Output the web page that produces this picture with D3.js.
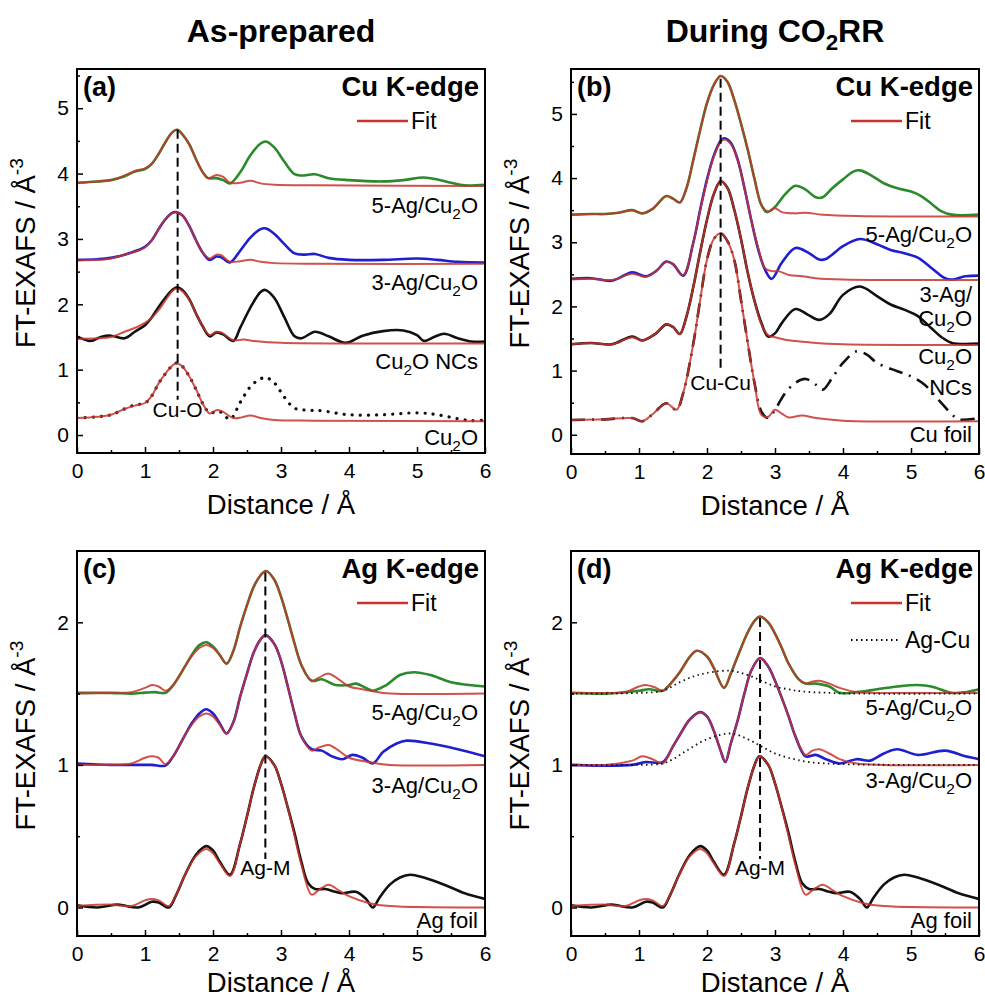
<!DOCTYPE html>
<html>
<head>
<meta charset="utf-8">
<script src="https://cdn.jsdelivr.net/npm/d3@7"></script>
<style>
  body { margin: 0; background: #fff; }
  svg { font-family: Arial, "Liberation Sans", sans-serif; }
</style>
</head>
<body>
<svg id="chart" width="985" height="1003"></svg>
<script>
"use strict";

/******************************************************* Data *******************************************************/

// Shared x ticks (distance, Å)
const R_TICKS = [0, 1, 2, 3, 4, 5, 6];

// (a) As-prepared, Cu K-edge
const a5Ag = [[0,3.86],[0.3,3.88],[0.5,3.9],[0.7,3.96],[0.85,4.03],[1.0,4.07],[1.1,4.15],[1.2,4.3],[1.3,4.48],[1.4,4.63],[1.47,4.67],[1.55,4.6],[1.65,4.45],[1.75,4.22],[1.85,4.02],[1.93,3.93],[2.05,3.93],[2.15,3.9],[2.25,3.85],[2.4,4.02],[2.55,4.28],[2.7,4.46],[2.78,4.49],[2.9,4.4],[3.05,4.18],[3.2,3.99],[3.3,3.97],[3.5,3.99],[3.7,3.93],[4.0,3.9],[4.5,3.88],[4.8,3.9],[5.1,3.94],[5.3,3.91],[5.5,3.86],[5.7,3.82],[6.0,3.83]];
const a5AgFit = [[0,3.86],[0.3,3.88],[0.5,3.9],[0.7,3.97],[0.85,4.04],[1.0,4.08],[1.1,4.15],[1.2,4.3],[1.3,4.48],[1.4,4.63],[1.47,4.67],[1.55,4.6],[1.65,4.45],[1.75,4.22],[1.85,4.02],[1.93,3.93],[2.05,3.98],[2.15,3.95],[2.25,3.86],[2.4,3.86],[2.55,3.89],[2.7,3.85],[2.9,3.83],[3.5,3.82],[6,3.81]];
const a3Ag = [[0,2.68],[0.3,2.69],[0.5,2.71],[0.7,2.76],[0.9,2.83],[1.0,2.88],[1.1,2.98],[1.2,3.15],[1.3,3.3],[1.4,3.4],[1.46,3.41],[1.55,3.36],[1.65,3.2],[1.75,2.98],[1.85,2.79],[1.95,2.68],[2.05,2.73],[2.12,2.72],[2.25,2.64],[2.4,2.82],[2.55,3.02],[2.7,3.15],[2.78,3.16],[2.9,3.08],[3.05,2.92],[3.2,2.78],[3.35,2.76],[3.5,2.77],[3.7,2.71],[4.0,2.68],[4.5,2.68],[5.0,2.7],[5.3,2.68],[5.6,2.65],[6,2.64]];
const a3AgFit = [[0,2.67],[0.3,2.68],[0.5,2.7],[0.7,2.76],[0.9,2.82],[1.0,2.87],[1.1,2.98],[1.2,3.15],[1.3,3.3],[1.4,3.39],[1.46,3.41],[1.55,3.36],[1.65,3.2],[1.75,2.98],[1.85,2.79],[1.95,2.7],[2.05,2.76],[2.12,2.75],[2.25,2.65],[2.4,2.66],[2.55,2.68],[2.7,2.65],[2.9,2.63],[3.5,2.62],[6,2.62]];
const aNCs = [[0,1.51],[0.2,1.44],[0.35,1.5],[0.5,1.52],[0.7,1.48],[0.85,1.58],[1.0,1.68],[1.1,1.8],[1.2,1.96],[1.3,2.1],[1.4,2.22],[1.47,2.26],[1.55,2.22],[1.65,2.08],[1.75,1.86],[1.85,1.66],[1.95,1.51],[2.05,1.57],[2.15,1.54],[2.3,1.44],[2.4,1.64],[2.55,1.95],[2.7,2.19],[2.77,2.22],[2.9,2.1],[3.05,1.8],[3.2,1.51],[3.3,1.48],[3.5,1.58],[3.7,1.51],[3.95,1.41],[4.2,1.52],[4.5,1.59],[4.8,1.6],[5.0,1.53],[5.1,1.44],[5.25,1.5],[5.4,1.55],[5.6,1.48],[5.8,1.43],[6,1.43]];
const aNCsFit = [[0,1.47],[0.3,1.48],[0.5,1.5],[0.7,1.58],[0.9,1.66],[1.05,1.75],[1.2,1.91],[1.3,2.06],[1.4,2.2],[1.47,2.24],[1.55,2.2],[1.65,2.07],[1.75,1.86],[1.85,1.66],[1.95,1.53],[2.05,1.58],[2.12,1.57],[2.3,1.45],[2.45,1.46],[2.6,1.44],[3.0,1.41],[4,1.4],[6,1.4]];
const aCu2O = [[0,0.26],[0.3,0.28],[0.5,0.31],[0.7,0.4],[0.85,0.46],[1.0,0.49],[1.1,0.6],[1.2,0.79],[1.3,0.94],[1.4,1.06],[1.46,1.1],[1.55,1.05],[1.65,0.9],[1.75,0.7],[1.85,0.48],[1.95,0.34],[2.05,0.36],[2.12,0.35],[2.25,0.24],[2.4,0.5],[2.55,0.74],[2.7,0.86],[2.78,0.88],[2.9,0.8],[3.05,0.58],[3.2,0.41],[3.4,0.38],[3.6,0.37],[4.0,0.31],[4.5,0.31],[5.0,0.34],[5.3,0.31],[5.6,0.25],[5.8,0.22],[6,0.23]];
const aCu2OFit = [[0,0.26],[0.3,0.28],[0.5,0.31],[0.7,0.4],[0.85,0.45],[1.0,0.49],[1.1,0.6],[1.2,0.79],[1.3,0.94],[1.4,1.06],[1.46,1.1],[1.55,1.05],[1.65,0.9],[1.75,0.7],[1.85,0.48],[1.95,0.33],[2.05,0.38],[2.12,0.37],[2.3,0.26],[2.42,0.27],[2.55,0.3],[2.7,0.26],[2.9,0.23],[3.5,0.22],[6,0.21]];

// (b) During CO2RR, Cu K-edge
const b5Ag = [[0,3.43],[0.3,3.44],[0.5,3.44],[0.7,3.46],[0.9,3.5],[1.05,3.45],[1.2,3.52],[1.4,3.72],[1.5,3.68],[1.6,3.62],[1.7,3.85],[1.8,4.29],[1.9,4.75],[2.0,5.17],[2.1,5.45],[2.2,5.59],[2.3,5.5],[2.4,5.22],[2.5,4.85],[2.6,4.44],[2.7,3.98],[2.8,3.58],[2.88,3.47],[3.0,3.55],[3.15,3.75],[3.3,3.88],[3.45,3.82],[3.6,3.7],[3.7,3.7],[3.85,3.85],[4.0,3.98],[4.15,4.1],[4.25,4.12],[4.4,4.05],[4.6,3.92],[4.8,3.84],[5.0,3.79],[5.15,3.72],[5.3,3.6],[5.45,3.48],[5.6,3.43],[6,3.43]];
const b5AgFit = [[0,3.43],[0.3,3.44],[0.5,3.44],[0.7,3.46],[0.9,3.5],[1.05,3.45],[1.2,3.52],[1.4,3.72],[1.5,3.68],[1.6,3.62],[1.7,3.85],[1.8,4.29],[1.9,4.75],[2.0,5.17],[2.1,5.45],[2.2,5.59],[2.3,5.5],[2.4,5.22],[2.5,4.85],[2.6,4.44],[2.7,3.98],[2.8,3.58],[2.9,3.48],[3.0,3.53],[3.1,3.47],[3.3,3.45],[3.45,3.46],[3.7,3.43],[4.2,3.41],[6,3.4]];
const b3Ag = [[0,2.43],[0.3,2.44],[0.6,2.4],[0.9,2.53],[1.1,2.47],[1.25,2.55],[1.4,2.7],[1.5,2.66],[1.65,2.48],[1.8,3.0],[1.9,3.51],[2.0,3.98],[2.1,4.35],[2.2,4.58],[2.25,4.62],[2.35,4.55],[2.45,4.29],[2.55,3.85],[2.65,3.35],[2.75,2.9],[2.85,2.58],[2.95,2.43],[3.1,2.68],[3.3,2.91],[3.5,2.83],[3.65,2.73],[3.75,2.74],[4.0,2.94],[4.25,3.05],[4.5,2.97],[4.7,2.88],[4.9,2.83],[5.1,2.76],[5.3,2.6],[5.5,2.44],[5.6,2.42],[5.8,2.47],[6,2.48]];
const b3AgFit = [[0,2.42],[0.3,2.43],[0.6,2.41],[0.9,2.51],[1.1,2.46],[1.25,2.55],[1.4,2.69],[1.5,2.66],[1.65,2.49],[1.8,3.0],[1.9,3.5],[2.0,3.96],[2.1,4.33],[2.2,4.56],[2.25,4.6],[2.35,4.53],[2.45,4.28],[2.55,3.85],[2.65,3.35],[2.75,2.92],[2.85,2.6],[2.95,2.55],[3.05,2.55],[3.2,2.49],[3.4,2.47],[3.6,2.44],[4.0,2.42],[6,2.41]];
const bNCs = [[0,1.41],[0.3,1.43],[0.6,1.41],[0.9,1.53],[1.05,1.47],[1.25,1.58],[1.4,1.72],[1.5,1.68],[1.6,1.57],[1.7,1.85],[1.8,2.31],[1.9,2.85],[2.0,3.35],[2.1,3.75],[2.2,3.95],[2.3,3.85],[2.4,3.51],[2.5,3.05],[2.6,2.52],[2.7,2.08],[2.8,1.74],[2.9,1.53],[3.0,1.58],[3.1,1.74],[3.3,1.96],[3.5,1.86],[3.65,1.79],[3.8,1.88],[4.0,2.18],[4.25,2.31],[4.5,2.16],[4.7,2.03],[4.9,1.95],[5.1,1.85],[5.3,1.66],[5.45,1.52],[5.6,1.43],[6,1.42]];
const bNCsFit = [[0,1.41],[0.3,1.43],[0.6,1.41],[0.9,1.52],[1.05,1.47],[1.25,1.58],[1.4,1.72],[1.5,1.68],[1.6,1.57],[1.7,1.85],[1.8,2.31],[1.9,2.85],[2.0,3.35],[2.1,3.75],[2.2,3.95],[2.3,3.85],[2.4,3.51],[2.5,3.05],[2.6,2.52],[2.7,2.08],[2.8,1.72],[2.9,1.55],[3.0,1.52],[3.15,1.48],[3.3,1.46],[3.5,1.44],[4,1.41],[6,1.4]];
const bFoil = [[0,0.23],[0.5,0.24],[0.9,0.26],[1.05,0.21],[1.2,0.32],[1.4,0.49],[1.55,0.39],[1.65,0.65],[1.8,1.43],[1.9,2.1],[2.0,2.73],[2.1,3.05],[2.2,3.14],[2.3,3.02],[2.4,2.73],[2.5,2.1],[2.6,1.43],[2.7,0.8],[2.8,0.36],[2.9,0.26],[3.0,0.39],[3.15,0.65],[3.3,0.81],[3.45,0.87],[3.6,0.78],[3.7,0.7],[3.85,0.9],[4.0,1.12],[4.2,1.3],[4.35,1.25],[4.5,1.12],[4.8,0.99],[5.0,0.91],[5.2,0.78],[5.4,0.55],[5.6,0.32],[5.7,0.24],[6,0.26]];
const bFoilFit = [[0,0.23],[0.5,0.24],[0.9,0.26],[1.05,0.21],[1.2,0.32],[1.4,0.49],[1.55,0.39],[1.65,0.65],[1.8,1.43],[1.9,2.1],[2.0,2.73],[2.1,3.05],[2.2,3.14],[2.3,3.02],[2.4,2.73],[2.5,2.1],[2.6,1.43],[2.7,0.8],[2.8,0.31],[2.9,0.28],[3.0,0.39],[3.1,0.33],[3.2,0.27],[3.4,0.3],[3.6,0.26],[4,0.22],[6,0.21]];

// (c) As-prepared, Ag K-edge
const c5Ag = [[0,1.505],[0.5,1.505],[0.8,1.5],[1.0,1.507],[1.15,1.51],[1.3,1.505],[1.4,1.55],[1.5,1.62],[1.6,1.7],[1.7,1.78],[1.8,1.84],[1.9,1.86],[2.0,1.83],[2.1,1.77],[2.2,1.71],[2.3,1.8],[2.4,1.97],[2.5,2.12],[2.6,2.25],[2.7,2.33],[2.78,2.36],[2.9,2.3],[3.0,2.18],[3.1,2.02],[3.2,1.85],[3.3,1.7],[3.45,1.59],[3.6,1.6],[3.8,1.56],[4.0,1.56],[4.1,1.57],[4.25,1.54],[4.35,1.52],[4.55,1.56],[4.75,1.63],[4.95,1.65],[5.2,1.63],[5.5,1.58],[6,1.55]];
const c5AgFit = [[0,1.5],[0.5,1.505],[0.8,1.51],[1.0,1.54],[1.1,1.56],[1.2,1.55],[1.3,1.52],[1.4,1.55],[1.5,1.62],[1.6,1.7],[1.7,1.77],[1.8,1.82],[1.9,1.84],[2.0,1.82],[2.1,1.77],[2.2,1.71],[2.3,1.8],[2.4,1.97],[2.5,2.12],[2.6,2.25],[2.7,2.33],[2.78,2.36],[2.9,2.3],[3.0,2.18],[3.1,2.02],[3.2,1.85],[3.3,1.7],[3.45,1.59],[3.55,1.61],[3.7,1.64],[3.85,1.6],[4.0,1.55],[4.2,1.53],[4.5,1.505],[6,1.5]];
const c3Ag = [[0,1.01],[0.5,1.0],[0.9,1.0],[1.1,1.0],[1.3,0.995],[1.4,1.05],[1.5,1.13],[1.6,1.22],[1.7,1.3],[1.8,1.36],[1.9,1.39],[2.0,1.36],[2.1,1.29],[2.2,1.22],[2.3,1.3],[2.4,1.48],[2.5,1.64],[2.6,1.79],[2.7,1.88],[2.77,1.91],[2.9,1.85],[3.0,1.73],[3.1,1.55],[3.2,1.36],[3.3,1.2],[3.45,1.11],[3.6,1.1],[3.75,1.06],[3.9,1.04],[4.05,1.07],[4.2,1.05],[4.35,1.01],[4.5,1.09],[4.7,1.15],[4.85,1.17],[5.2,1.15],[5.6,1.11],[6,1.06]];
const c3AgFit = [[0,1.0],[0.5,1.0],[0.8,1.01],[1.0,1.05],[1.1,1.06],[1.2,1.05],[1.3,1.005],[1.4,1.05],[1.5,1.13],[1.6,1.22],[1.7,1.29],[1.8,1.34],[1.9,1.36],[2.0,1.34],[2.1,1.28],[2.2,1.22],[2.3,1.3],[2.4,1.48],[2.5,1.64],[2.6,1.79],[2.7,1.88],[2.77,1.91],[2.9,1.85],[3.0,1.73],[3.1,1.55],[3.2,1.36],[3.3,1.2],[3.45,1.1],[3.55,1.12],[3.7,1.14],[3.85,1.1],[4.0,1.05],[4.3,1.02],[4.6,1.0],[6,1.0]];
// Ag foil reference, the same in (c) and (d)
const agFoil = [[0,0.016],[0.3,0.0],[0.6,0.02],[0.9,0.0],[1.1,0.04],[1.2,0.035],[1.35,0.0],[1.45,0.08],[1.6,0.24],[1.75,0.37],[1.9,0.43],[2.0,0.4],[2.1,0.32],[2.25,0.23],[2.4,0.45],[2.5,0.64],[2.6,0.84],[2.7,1.0],[2.77,1.06],[2.9,1.0],[3.0,0.87],[3.1,0.7],[3.2,0.52],[3.3,0.32],[3.4,0.17],[3.5,0.13],[3.65,0.13],[3.8,0.11],[3.9,0.1],[4.1,0.11],[4.25,0.06],[4.35,0.0],[4.45,0.07],[4.6,0.16],[4.75,0.21],[4.9,0.23],[5.1,0.21],[5.4,0.16],[5.7,0.1],[6,0.06]];
const agFoilFit = [[0,0.01],[0.5,0.02],[0.8,0.01],[1.0,0.05],[1.1,0.06],[1.2,0.05],[1.35,0.01],[1.45,0.08],[1.6,0.24],[1.75,0.36],[1.9,0.41],[2.0,0.38],[2.1,0.31],[2.25,0.22],[2.4,0.45],[2.5,0.64],[2.6,0.84],[2.7,1.0],[2.77,1.06],[2.9,1.0],[3.0,0.87],[3.1,0.7],[3.2,0.5],[3.3,0.3],[3.45,0.09],[3.55,0.12],[3.7,0.16],[3.85,0.12],[4.0,0.08],[4.3,0.03],[4.6,0.01],[6,0.0]];

// (d) During CO2RR, Ag K-edge
const d5Ag = [[0,1.505],[0.5,1.5],[0.8,1.51],[1.0,1.52],[1.15,1.53],[1.35,1.52],[1.5,1.59],[1.6,1.65],[1.75,1.76],[1.85,1.8],[2.0,1.76],[2.1,1.68],[2.25,1.54],[2.35,1.64],[2.45,1.76],[2.6,1.93],[2.7,2.01],[2.78,2.04],[2.9,2.0],[3.0,1.92],[3.1,1.82],[3.2,1.71],[3.35,1.6],[3.45,1.57],[3.6,1.57],[3.8,1.55],[3.95,1.505],[4.2,1.51],[4.5,1.53],[4.8,1.55],[5.1,1.56],[5.3,1.55],[5.6,1.505],[5.8,1.51],[6,1.53]];
const d5AgFit = [[0,1.505],[0.5,1.505],[0.8,1.51],[1.0,1.55],[1.1,1.56],[1.25,1.54],[1.35,1.52],[1.5,1.59],[1.6,1.65],[1.75,1.76],[1.85,1.8],[2.0,1.76],[2.1,1.68],[2.25,1.54],[2.35,1.64],[2.45,1.76],[2.6,1.93],[2.7,2.01],[2.78,2.04],[2.9,2.0],[3.0,1.92],[3.1,1.82],[3.2,1.71],[3.35,1.6],[3.45,1.57],[3.55,1.585],[3.65,1.59],[3.8,1.57],[3.95,1.54],[4.2,1.51],[4.5,1.505],[6,1.505]];
const d5AgCu = [[0,1.5],[1.0,1.505],[1.35,1.52],[1.6,1.58],[1.8,1.62],[2.0,1.645],[2.35,1.66],[2.6,1.63],[2.8,1.59],[3.0,1.55],[3.2,1.53],[3.4,1.515],[3.8,1.505],[4.2,1.5],[6,1.5]];
const d3Ag = [[0,1.0],[0.4,0.995],[0.9,1.0],[1.1,1.02],[1.35,1.02],[1.5,1.13],[1.6,1.21],[1.75,1.32],[1.9,1.37],[2.0,1.34],[2.1,1.24],[2.2,1.1],[2.27,1.02],[2.35,1.15],[2.45,1.31],[2.55,1.5],[2.65,1.66],[2.78,1.75],[2.9,1.69],[3.0,1.59],[3.1,1.47],[3.2,1.34],[3.3,1.2],[3.45,1.06],[3.6,1.07],[3.75,1.04],[3.95,1.01],[4.2,1.04],[4.4,1.03],[4.6,1.08],[4.8,1.11],[5.1,1.07],[5.5,1.1],[5.8,1.06],[6,1.04]];
const d3AgFit = [[0,1.0],[0.5,1.0],[0.9,1.03],[1.05,1.06],[1.2,1.04],[1.35,1.01],[1.5,1.13],[1.6,1.21],[1.75,1.32],[1.9,1.37],[2.0,1.34],[2.1,1.24],[2.2,1.1],[2.27,1.02],[2.35,1.15],[2.45,1.31],[2.55,1.5],[2.65,1.66],[2.78,1.75],[2.9,1.69],[3.0,1.59],[3.1,1.47],[3.2,1.34],[3.3,1.2],[3.45,1.07],[3.55,1.1],[3.65,1.11],[3.8,1.08],[3.95,1.04],[4.2,1.01],[4.6,1.0],[6,1.0]];
const d3AgCu = [[0,1.0],[1.0,1.0],[1.35,1.01],[1.5,1.04],[1.7,1.1],[2.0,1.18],[2.35,1.22],[2.6,1.18],[2.8,1.13],[3.0,1.08],[3.2,1.05],[3.5,1.02],[4,1.005],[6,1.0]];

// Peak markers: [R, top value, bottom value, label]
const aMarker = [1.48, 4.67, 0.54, "Cu-O"];
const bMarker = [2.2, 5.55, 0.98, "Cu-Cu"];
const cMarker = [2.77, 2.35, 0.34, "Ag-M"];
const dMarker = [2.78, 2.03, 0.34, "Ag-M"];

/******************************************************* Layout *******************************************************/

const GREEN = "#2b8a2b";
const BLUE = "#1f1fcf";
const BLACK = "#111";
const RED = "#c8342c";

const SVG = d3.select("#chart");
const LINE_CURVE = d3.curveCatmullRom.alpha(0.5);

const PANELS = [
  {
    tag: "(a)", edge: "Cu K-edge", x0: 77, x1: 485, y0: 69, y1: 453, yDom: [-0.275, 5.6], yMajor: [0, 1, 2, 3, 4, 5],
    series: [
      { d: a5Ag, c: GREEN }, { d: a5AgFit, c: RED, fit: true },
      { d: a3Ag, c: BLUE }, { d: a3AgFit, c: RED, fit: true },
      { d: aNCs, c: BLACK }, { d: aNCsFit, c: RED, fit: true },
      { d: aCu2O, c: BLACK, dash: "0.1,8", cap: "round", w: 3.2 }, { d: aCu2OFit, c: RED, fit: true }
    ],
    marker: aMarker, markerLabelY: 417,
    labels: [["5-Ag/Cu_{2}O", 213], ["3-Ag/Cu_{2}O", 290], ["Cu_{2}O NCs", 369], ["Cu_{2}O", 445]],
    agcu: false
  },
  {
    tag: "(b)", edge: "Cu K-edge", x0: 571, x1: 979, y0: 69, y1: 454, yDom: [-0.3, 5.7], yMajor: [0, 1, 2, 3, 4, 5],
    series: [
      { d: b5Ag, c: GREEN }, { d: b5AgFit, c: RED, fit: true },
      { d: b3Ag, c: BLUE }, { d: b3AgFit, c: RED, fit: true },
      { d: bNCs, c: BLACK }, { d: bNCsFit, c: RED, fit: true },
      { d: bFoil, c: BLACK, dash: "14,7,2,7" }, { d: bFoilFit, c: RED, fit: true }
    ],
    marker: bMarker, markerLabelY: 390,
    labels: [["5-Ag/Cu_{2}O", 242], ["3-Ag/", 302], ["Cu_{2}O", 326], ["Cu_{2}O", 364], ["NCs", 395], ["Cu foil", 442]],
    agcu: false
  },
  {
    tag: "(c)", edge: "Ag K-edge", x0: 77, x1: 485, y0: 551, y1: 936, yDom: [-0.2, 2.5], yMajor: [0, 1, 2],
    series: [
      { d: c5Ag, c: GREEN }, { d: c5AgFit, c: RED, fit: true },
      { d: c3Ag, c: BLUE }, { d: c3AgFit, c: RED, fit: true },
      { d: agFoil, c: BLACK }, { d: agFoilFit, c: RED, fit: true }
    ],
    marker: cMarker, markerLabelY: 875,
    labels: [["5-Ag/Cu_{2}O", 720], ["3-Ag/Cu_{2}O", 793], ["Ag foil", 928]],
    agcu: false
  },
  {
    tag: "(d)", edge: "Ag K-edge", x0: 571, x1: 979, y0: 551, y1: 936, yDom: [-0.2, 2.5], yMajor: [0, 1, 2],
    series: [
      { d: d5Ag, c: GREEN }, { d: d5AgFit, c: RED, fit: true }, { d: d5AgCu, c: BLACK, dash: "1.5,3.5", w: 1.8 },
      { d: d3Ag, c: BLUE }, { d: d3AgFit, c: RED, fit: true }, { d: d3AgCu, c: BLACK, dash: "1.5,3.5", w: 1.8 },
      { d: agFoil, c: BLACK }, { d: agFoilFit, c: RED, fit: true }
    ],
    marker: dMarker, markerLabelY: 875,
    labels: [["5-Ag/Cu_{2}O", 715], ["3-Ag/Cu_{2}O", 788], ["Ag foil", 928]],
    agcu: true
  }
];

/******************************************************* Helpers *******************************************************/

// Write text with _{sub} and ^{sup} parts as tspans
function richText(sel, str, size) {
  const parts = str.split(/(_\{[^}]*\}|\^\{[^}]*\})/).filter(function(s) { return s.length; });
  let shift = 0;
  parts.forEach(function(p) {
    if (p.startsWith("_{") || p.startsWith("^{")) {
      const dy = p[0] === "_" ? size * 0.25 : -size * 0.42;
      sel.append("tspan").attr("dy", dy).attr("font-size", size * 0.7).text(p.slice(2, -1));
      shift = -dy;
    } else {
      sel.append("tspan").attr("dy", shift).text(p);
      shift = 0;
    }
  });
  return sel;
}

function addText(g, x, y, str, size, anchor, weight) {
  const t = g.append("text")
    .attr("x", x).attr("y", y)
    .attr("font-size", size)
    .attr("text-anchor", anchor || "start")
    .attr("font-weight", weight || "normal")
    .attr("fill", "#000");
  return richText(t, str, size);
}

/******************************************************* Draw *******************************************************/

function drawPanel(p, i) {
  const x = d3.scaleLinear().domain([0, 6]).range([p.x0, p.x1]);
  const y = d3.scaleLinear().domain(p.yDom).range([p.y1, p.y0]);
  const g = SVG.append("g");

  const clipId = "clip-" + i;
  SVG.append("defs").append("clipPath").attr("id", clipId)
    .append("rect").attr("x", p.x0).attr("y", p.y0).attr("width", p.x1 - p.x0).attr("height", p.y1 - p.y0);

  const line = d3.line()
    .x(function(d) { return x(d[0]); })
    .y(function(d) { return y(d[1]); })
    .curve(LINE_CURVE);

  const gLines = g.append("g").attr("clip-path", "url(#" + clipId + ")");
  p.series.forEach(function(s) {
    gLines.append("path")
      .datum(s.d)
      .attr("d", line)
      .attr("fill", "none")
      .attr("stroke", s.c)
      .attr("stroke-width", s.w || (s.fit ? 2 : 2.6))
      .attr("stroke-opacity", s.fit ? 0.85 : 1)
      .attr("stroke-dasharray", s.dash || null)
      .attr("stroke-linecap", s.cap || "butt")
      .attr("stroke-linejoin", "round");
  });

  // Peak marker
  const m = p.marker;
  g.append("line")
    .attr("x1", x(m[0])).attr("x2", x(m[0]))
    .attr("y1", y(m[1])).attr("y2", y(m[2]))
    .attr("stroke", "#000").attr("stroke-width", 2).attr("stroke-dasharray", "9,5");
  addText(g, x(m[0]), p.markerLabelY, m[3], 21, "middle");

  // Axes with inward ticks
  const halves = d3.range(0.5, 6, 1);
  g.append("g").attr("transform", "translate(0," + p.y1 + ")")
    .call(d3.axisBottom(x).tickValues(R_TICKS).tickSize(-6).tickPadding(10).tickFormat(d3.format("d")))
    .call(function(a) { a.select(".domain").remove(); });
  g.append("g").attr("transform", "translate(0," + p.y1 + ")")
    .call(d3.axisBottom(x).tickValues(halves).tickSize(-3).tickFormat(""))
    .call(function(a) { a.select(".domain").remove(); });

  const yMinor = d3.range(Math.ceil(p.yDom[0] * 2) / 2, p.yDom[1], 0.5).filter(function(v) { return Math.abs(v - Math.round(v)) > 0.01; });
  g.append("g").attr("transform", "translate(" + p.x0 + ",0)")
    .call(d3.axisLeft(y).tickValues(p.yMajor).tickSize(-6).tickPadding(8).tickFormat(d3.format("d")))
    .call(function(a) { a.select(".domain").remove(); });
  g.append("g").attr("transform", "translate(" + p.x0 + ",0)")
    .call(d3.axisLeft(y).tickValues(yMinor).tickSize(-3).tickFormat(""))
    .call(function(a) { a.select(".domain").remove(); });

  g.selectAll(".tick text").attr("font-size", 21).attr("font-family", "Arial, 'Liberation Sans', sans-serif").attr("fill", "#000");
  g.selectAll(".tick line").attr("stroke", "#000").attr("stroke-width", 1.5);

  // Frame
  g.append("rect")
    .attr("x", p.x0).attr("y", p.y0).attr("width", p.x1 - p.x0).attr("height", p.y1 - p.y0)
    .attr("fill", "none").attr("stroke", "#000").attr("stroke-width", 2);

  // Panel tag and edge name
  addText(g, p.x0 + 6, p.y0 + 27, p.tag, 27, "start", "bold");
  addText(g, p.x1 - 6, p.y0 + 27, p.edge, 27.5, "end", "bold");

  // Legend
  const ly = p.y0 + 52;
  g.append("line").attr("x1", p.x1 - 128).attr("x2", p.x1 - 77).attr("y1", ly).attr("y2", ly)
    .attr("stroke", RED).attr("stroke-width", 2.4);
  addText(g, p.x1 - 74, ly + 8, "Fit", 23, "start");
  if (p.agcu) {
    const ly2 = ly + 37;
    g.append("line").attr("x1", p.x1 - 128).attr("x2", p.x1 - 79).attr("y1", ly2).attr("y2", ly2)
      .attr("stroke", "#000").attr("stroke-width", 1.8).attr("stroke-dasharray", "1.5,3.5");
    addText(g, p.x1 - 74, ly2 + 8, "Ag-Cu", 23, "start");
  }

  // Sample labels
  p.labels.forEach(function(l) {
    addText(g, p.x1 - 7, l[1], l[0], 22, "end");
  });

  // Axis titles
  addText(g, (p.x0 + p.x1) / 2, Math.min(p.y1 + 61, 992), "Distance / Å", 27.5, "middle");
  const yl = g.append("text")
    .attr("transform", "translate(" + (p.x0 - 42) + "," + ((p.y0 + p.y1) / 2 - 8) + ") rotate(-90)")
    .attr("font-size", 27.5).attr("text-anchor", "middle").attr("fill", "#000");
  richText(yl, "FT-EXAFS / Å^{-3}", 27.5);
}

PANELS.forEach(drawPanel);

// Column titles
addText(SVG, 281, 42, "As-prepared", 32, "middle", "bold");
addText(SVG, 775, 42, "During CO_{2}RR", 32, "middle", "bold");
</script>
</body>
</html>
